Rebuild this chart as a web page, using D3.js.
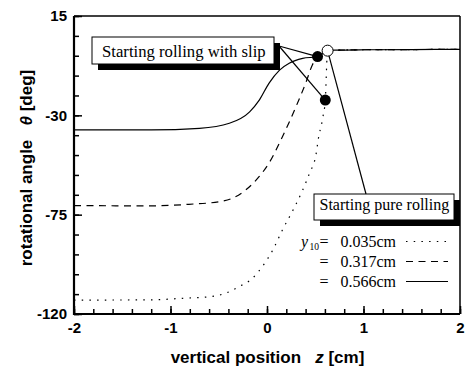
<!DOCTYPE html>
<html>
<head>
<meta charset="utf-8">
<script src="https://cdn.jsdelivr.net/npm/d3@7"></script>
<style>
  body { margin: 0; background: #fff; }
  svg { display: block; }
</style>
</head>
<body>
<script>
// data
const z035 = [-2, -1.2, -0.88, -0.6, -0.43, -0.29, -0.15, -0.05, 0.06, 0.16, 0.27, 0.37, 0.44, 0.51, 0.53, 0.58, 0.604, 0.628, 0.7, 1.0, 1.5, 2]
const theta035 = [-113.7, -113.6, -112.9, -112.2, -110.6, -107.6, -103.8, -98.6, -91.0, -81.9, -72.9, -63.8, -56.3, -47.2, -41.2, -30.6, -23.1, -0.7, -0.5, -0.3, -0.2, -0.1]

const z317 = [-2, -1.2, -0.81, -0.49, -0.36, -0.22, -0.08, 0.02, 0.16, 0.30, 0.40, 0.47, 0.524, 0.628, 0.7, 1.0, 1.5, 2]
const theta317 = [-70.9, -71.0, -70.3, -69.1, -67.6, -63.8, -57.7, -51.7, -39.7, -26.1, -15.5, -7.2, -3.4, -0.7, -0.5, -0.3, -0.2, -0.1]

const z566 = [-2, -1.2, -0.7, -0.39, -0.18, -0.08, 0.02, 0.13, 0.23, 0.37, 0.524, 0.628, 0.7, 1.0, 1.5, 2]
const theta566 = [-36.6, -36.6, -35.9, -33.6, -28.4, -23.1, -15.5, -9.5, -6.4, -4.2, -3.4, -0.7, -0.5, -0.3, -0.2, -0.1]

const legendValues = ["0.035cm", "0.317cm", "0.566cm"]
const legendDash = ["1.5,6.2", "7,5.5", null]

const slipZ = [0.524, 0.604]
const slipTheta = [-3.4, -23.1]
const pureZ = [0.628]
const pureTheta = [-0.7]

const xTicks = [-2, -1, 0, 1, 2]
const yTicks = [15, -30, -75, -120]

const w = 466
const h = 370
const mLeft = 74, mRight = 460, mTop = 16, mBottom = 314

let svg = d3.select("body").append("svg")
            .attr("width", w)
            .attr("height", h)

let x = d3.scaleLinear().domain([-2, 2]).range([mLeft, mRight])
let y = d3.scaleLinear().domain([-120, 15]).range([mBottom, mTop])

const sans = "Liberation Sans, Arial, sans-serif"
const serif = "Liberation Serif, Times New Roman, serif"

//minor ticks
svg.append("g")
    .attr("transform", "translate(0," + mBottom + ")")
    .call(d3.axisBottom(x).tickValues(d3.range(-2, 2.001, 0.2)).tickSizeInner(-5).tickSizeOuter(0).tickFormat(""))
    .call(g => g.select(".domain").remove())
    .selectAll("line").attr("stroke-width", 1.5)

svg.append("g")
    .attr("transform", "translate(" + mLeft + ",0)")
    .call(d3.axisLeft(y).tickValues(d3.range(-120, 15.001, 9)).tickSizeInner(-5).tickSizeOuter(0).tickFormat(""))
    .call(g => g.select(".domain").remove())
    .selectAll("line").attr("stroke-width", 1.5)

//major ticks + labels
let xAxis = svg.append("g")
    .attr("transform", "translate(0," + mBottom + ")")
    .call(d3.axisBottom(x).tickValues(xTicks).tickSizeInner(-8).tickSizeOuter(0).tickPadding(8).tickFormat(d => String(d)))
xAxis.select(".domain").remove()
xAxis.selectAll("line").attr("stroke-width", 1.5)
xAxis.selectAll("text")
    .attr("font-family", sans)
    .attr("font-weight", "bold")
    .attr("font-size", "15px")
    .attr("fill", "#000")

let yAxis = svg.append("g")
    .attr("transform", "translate(" + mLeft + ",0)")
    .call(d3.axisLeft(y).tickValues(yTicks).tickSizeInner(-8).tickSizeOuter(0).tickPadding(7).tickFormat(d => String(d)))
yAxis.select(".domain").remove()
yAxis.selectAll("line").attr("stroke-width", 1.5)
yAxis.selectAll("text")
    .attr("font-family", sans)
    .attr("font-weight", "bold")
    .attr("font-size", "15px")
    .attr("fill", "#000")

//frame
svg.append("line").attr("x1", mLeft).attr("x2", mRight).attr("y1", mTop).attr("y2", mTop).attr("stroke", "#000").attr("stroke-width", 1.5)
svg.append("line").attr("x1", mRight).attr("x2", mRight).attr("y1", mTop).attr("y2", mBottom).attr("stroke", "#000").attr("stroke-width", 1.5)
svg.append("line").attr("x1", mLeft).attr("x2", mLeft).attr("y1", mTop).attr("y2", mBottom + 1).attr("stroke", "#000").attr("stroke-width", 2.2)
svg.append("line").attr("x1", mLeft - 1).attr("x2", mRight).attr("y1", mBottom).attr("y2", mBottom).attr("stroke", "#000").attr("stroke-width", 2.2)

//curves
let line = d3.line()
    .x(d => x(d[0]))
    .y(d => y(d[1]))
    .curve(d3.curveMonotoneX)

let series = [
    {z: z317, t: theta317, dash: legendDash[1]},
    {z: z566, t: theta566, dash: legendDash[2]},
    {z: z035, t: theta035, dash: legendDash[0]}
]

svg.selectAll("path.curve")
    .data(series)
    .enter()
    .append("path")
    .attr("class", "curve")
    .attr("d", d => line(d3.zip(d.z, d.t)))
    .attr("fill", "none")
    .attr("stroke", "#000")
    .attr("stroke-width", 1.2)
    .attr("stroke-dasharray", d => d.dash)

//annotation: rolling with slip
const b1 = {x: 92, y: 37, w: 182, h: 27}
svg.append("rect").attr("x", b1.x + 6).attr("y", b1.y + 6).attr("width", b1.w).attr("height", b1.h).attr("fill", "#000")
svg.append("rect").attr("x", b1.x).attr("y", b1.y).attr("width", b1.w).attr("height", b1.h)
    .attr("fill", "#fff").attr("stroke", "#000").attr("stroke-width", 1)
svg.append("text").attr("x", b1.x + 10).attr("y", b1.y + 19.5)
    .attr("font-family", serif).attr("font-size", "16.7px").text("Starting rolling with slip")

svg.selectAll("line.slip")
    .data(d3.zip(slipZ, slipTheta))
    .enter()
    .append("line")
    .attr("class", "slip")
    .attr("x1", b1.x + b1.w + 5).attr("y1", b1.y + 9)
    .attr("x2", d => x(d[0])).attr("y2", d => y(d[1]))
    .attr("stroke", "#000").attr("stroke-width", 1.2)

//annotation: pure rolling
const b2 = {x: 314, y: 194, w: 140, h: 26}
svg.append("line")
    .attr("x1", x(pureZ[0])).attr("y1", y(pureTheta[0]))
    .attr("x2", 366).attr("y2", b2.y)
    .attr("stroke", "#000").attr("stroke-width", 1.2)
svg.append("rect").attr("x", b2.x + 6).attr("y", b2.y + 6).attr("width", b2.w).attr("height", b2.h).attr("fill", "#000")
svg.append("rect").attr("x", b2.x).attr("y", b2.y).attr("width", b2.w).attr("height", b2.h)
    .attr("fill", "#fff").attr("stroke", "#000").attr("stroke-width", 1)
svg.append("text").attr("x", b2.x + 5.5).attr("y", b2.y + 15.5)
    .attr("font-family", serif).attr("font-size", "16px").text("Starting pure rolling")

//points
svg.selectAll("circle.slip")
    .data(d3.zip(slipZ, slipTheta))
    .enter()
    .append("circle")
    .attr("class", "slip")
    .attr("cx", d => x(d[0])).attr("cy", d => y(d[1]))
    .attr("r", 5.5)
    .attr("fill", "#000")

svg.selectAll("circle.pure")
    .data(d3.zip(pureZ, pureTheta))
    .enter()
    .append("circle")
    .attr("class", "pure")
    .attr("cx", d => x(d[0])).attr("cy", d => y(d[1]))
    .attr("r", 5.5)
    .attr("fill", "#fff")
    .attr("stroke", "#000")
    .attr("stroke-width", 1)

//legend
let leg = svg.append("g")
leg.append("text").attr("x", 301).attr("y", 246.5)
    .attr("font-family", serif).attr("font-size", "16px").attr("font-style", "italic").text("y")
leg.append("text").attr("x", 309.5).attr("y", 250)
    .attr("font-family", serif).attr("font-size", "9.5px").text("10")

legendValues.forEach(function(v, i) {
    let by = 246.5 + i * 20
    leg.append("text").attr("x", 319.5).attr("y", by)
        .attr("font-family", serif).attr("font-size", "16px").text("=")
    leg.append("text").attr("x", 340.5).attr("y", by)
        .attr("font-family", serif).attr("font-size", "16px").text(v)
    leg.append("line")
        .attr("x1", 406).attr("x2", 448)
        .attr("y1", by - 5).attr("y2", by - 5)
        .attr("stroke", "#000").attr("stroke-width", 1.2)
        .attr("stroke-dasharray", legendDash[i])
})

//axis titles
let xt = svg.append("text")
    .attr("x", 267.5).attr("y", 363)
    .attr("text-anchor", "middle")
    .attr("font-family", sans)
    .attr("font-weight", "bold")
    .attr("font-size", "17px")
    .style("white-space", "pre")
xt.append("tspan").text("vertical position   ")
xt.append("tspan").attr("font-style", "italic").text("z")
xt.append("tspan").text(" [cm]")

let yt = svg.append("text")
    .attr("transform", "translate(32,168) rotate(-90)")
    .attr("text-anchor", "middle")
    .attr("font-family", sans)
    .attr("font-weight", "bold")
    .attr("font-size", "17px")
    .style("white-space", "pre")
yt.append("tspan").text("rotational angle   ")
yt.append("tspan").attr("font-style", "italic").text("θ")
yt.append("tspan").text(" [deg]")
</script>
</body>
</html>
